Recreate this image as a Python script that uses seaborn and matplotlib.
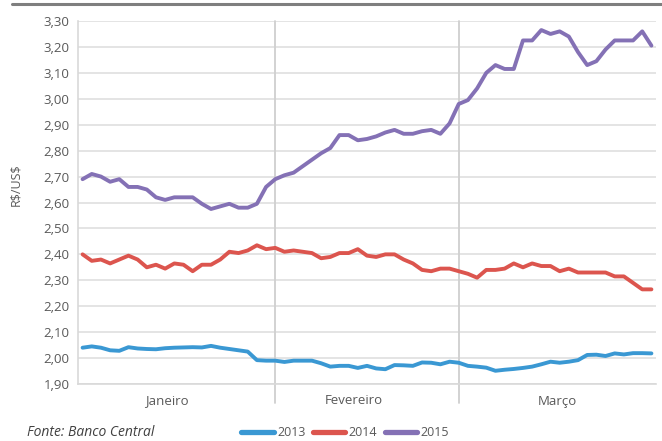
import numpy as np
import pandas as pd
import matplotlib
matplotlib.use("Agg")
import matplotlib.pyplot as plt
import matplotlib.transforms as mtransforms
from matplotlib.lines import Line2D
from matplotlib.ticker import FuncFormatter, MultipleLocator, FixedLocator, NullFormatter
import seaborn as sns

# ---------------- data ----------------
years = ["2013", "2014", "2015"]
months = ["Janeiro", "Fevereiro", "Março"]
source_text = "Fonte: Banco Central"
ylabel = r"R\$/US\$"

s2013 = [2.040, 2.045, 2.040, 2.030, 2.028, 2.042, 2.037, 2.035, 2.034, 2.038,
         2.040, 2.041, 2.042, 2.041, 2.047, 2.040, 2.035, 2.030, 2.025, 1.992,
         1.990, 1.990, 1.985, 1.990, 1.990, 1.990, 1.980, 1.967,
         1.970, 1.970, 1.962, 1.970, 1.960, 1.957, 1.973, 1.972, 1.970, 1.983,
         1.982, 1.976, 1.986, 1.982, 1.970, 1.967, 1.963, 1.951, 1.955, 1.958,
         1.962, 1.967, 1.976, 1.986, 1.982, 1.986, 1.992, 2.012, 2.013, 2.008,
         2.018, 2.014, 2.019, 2.019, 2.018]
s2014 = [2.400, 2.375, 2.380, 2.365, 2.380, 2.395, 2.380, 2.350, 2.360, 2.345,
         2.365, 2.360, 2.335, 2.360, 2.360, 2.380, 2.410, 2.405, 2.415, 2.435,
         2.420, 2.425, 2.410, 2.415, 2.410, 2.405, 2.385, 2.390,
         2.405, 2.405, 2.420, 2.395, 2.390, 2.400, 2.400, 2.380, 2.365, 2.340,
         2.335, 2.345, 2.345, 2.335, 2.325, 2.310, 2.340, 2.340, 2.345, 2.365,
         2.350, 2.365, 2.355, 2.355, 2.335, 2.345, 2.330, 2.330, 2.330, 2.330,
         2.315, 2.315, 2.290, 2.265, 2.265]
s2015 = [2.690, 2.710, 2.700, 2.680, 2.690, 2.660, 2.660, 2.650, 2.620, 2.610,
         2.620, 2.620, 2.620, 2.595, 2.575, 2.585, 2.595, 2.580, 2.580, 2.595,
         2.660, 2.690, 2.705, 2.715, 2.740, 2.765, 2.790, 2.810,
         2.860, 2.860, 2.840, 2.845, 2.855, 2.870, 2.880, 2.865, 2.865, 2.875,
         2.880, 2.865, 2.905, 2.980, 2.995, 3.040, 3.100, 3.130, 3.115, 3.115,
         3.225, 3.225, 3.265, 3.250, 3.260, 3.240, 3.180, 3.130, 3.145, 3.190,
         3.225, 3.225, 3.225, 3.260, 3.205]

colors = {"2013": "#3A98D3", "2014": "#DC554E", "2015": "#8471B5"}

n = len(s2013)
idx = np.arange(n)
df = pd.DataFrame({
    "dia": np.tile(idx, 3),
    "valor": s2013 + s2014 + s2015,
    "ano": np.repeat(years, n),
})

# ---------------- style ----------------
sns.set_theme(style="white")
plt.rcParams["font.family"] = ["Open Sans", "DejaVu Sans"]

W, H = 662, 441
fig = plt.figure(figsize=(W / 100, H / 100), dpi=100)
L, R, T, B = 78, 656, 21, 384
ax = fig.add_axes([L / W, 1 - B / H, (R - L) / W, (B - T) / H])

sns.lineplot(data=df, x="dia", y="valor", hue="ano", palette=colors,
             linewidth=2.8, ax=ax, legend=False, zorder=3)
for ln in ax.get_lines():
    ln.set_solid_joinstyle("round")
    ln.set_solid_capstyle("round")

ax.set_xlim(-0.5, n - 0.5)
ax.set_ylim(1.90, 3.30)
ax.yaxis.set_major_locator(MultipleLocator(0.10))
ax.yaxis.set_major_formatter(FuncFormatter(lambda v, p: f"{v:.2f}".replace(".", ",")))
ax.grid(axis="y", color="#E4E4E4", linewidth=1.4, zorder=0)
ax.grid(axis="x", visible=False)

for s in ["top", "right"]:
    ax.spines[s].set_visible(False)
for s in ["left", "bottom"]:
    ax.spines[s].set_color("#D9D9D9")
    ax.spines[s].set_linewidth(1.2)

ax.tick_params(axis="y", length=0, labelsize=9.5, labelcolor="#595959", pad=6)
ax.set_xticks([])
ax.xaxis.set_minor_locator(FixedLocator(np.arange(n + 1) - 0.5))
ax.xaxis.set_minor_formatter(NullFormatter())
ax.tick_params(axis="x", which="minor", length=4, width=1, color="#C8C8C8", direction="out")
ax.set_xlabel("")
ax.set_ylabel(ylabel, fontsize=9, color="#595959")
ax.yaxis.set_label_coords((22 - L) / (R - L), (B - 185) / (B - T))

# month separators
trans = mtransforms.blended_transform_factory(ax.transData, ax.transAxes)
for xs in [21, 41]:
    ax.plot([xs, xs], [1.0, -19 / (B - T)], transform=trans, color="#CFCFCF",
            linewidth=1.3, clip_on=False, zorder=1)

# month labels
month_x = [9.14, 29.6, 51.8]
for mx, m in zip(month_x, months):
    ax.text(mx, (B - 401) / (B - T), m, transform=trans, ha="center", va="center",
            fontsize=9.5, color="#595959")

# top rule
fig.add_artist(Line2D([12 / W, 1.0], [1 - 4 / H, 1 - 4 / H], color="#7F7F7F", linewidth=2.2))

# legend
handles = [Line2D([0], [0], color=colors[y], linewidth=3.8) for y in years]
fig.legend(handles, years, loc="center", bbox_to_anchor=(345 / W, 1 - 433 / H), ncol=3,
           frameon=False, fontsize=9, handlelength=2.6, handletextpad=0.25,
           columnspacing=0.6, labelcolor="#595959", borderpad=0)

fig.text(27 / W, 1 - 432 / H, source_text, style="italic", fontsize=10,
         color="#404040", ha="left", va="center")

fig.savefig("out.png", dpi=100)
